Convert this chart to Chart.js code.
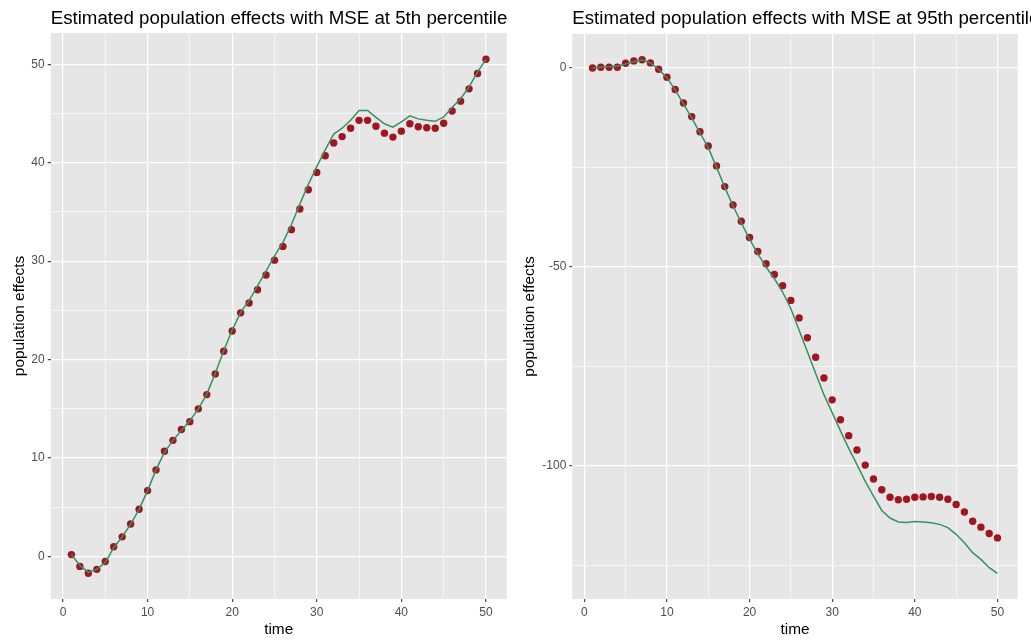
<!DOCTYPE html>
<html><head><meta charset="utf-8">
<script src="https://cdn.jsdelivr.net/npm/chart.js@4.4.1/dist/chart.umd.min.js"></script>
<style>
html,body{margin:0;padding:0;background:#fff;overflow:hidden;width:1031px;height:641px}
#c1{position:absolute;left:0;top:0}
#c2{position:absolute;left:515px;top:0}
</style>
</head><body>
<canvas id="c1" width="515" height="641"></canvas>
<canvas id="c2" width="516" height="641"></canvas>
<script>
const time = [1,2,3,4,5,6,7,8,9,10,11,12,13,14,15,16,17,18,19,20,21,22,23,24,25,26,27,28,29,30,31,32,33,34,35,36,37,38,39,40,41,42,43,44,45,46,47,48,49,50];

const mse5Points = [0.2,-1.0,-1.7,-1.3,-0.5,1.0,2.0,3.3,4.8,6.7,8.8,10.7,11.8,12.9,13.7,15.0,16.45,18.55,20.85,22.9,24.75,25.75,27.1,28.6,30.1,31.5,33.2,35.3,37.25,39.0,40.7,42.0,42.65,43.5,44.3,44.3,43.7,43.0,42.6,43.2,43.95,43.65,43.55,43.5,44.0,45.25,46.25,47.5,49.05,50.5];
const mse5Line = [0.2,-0.9,-1.6,-1.3,-0.6,0.9,2.0,3.3,4.8,6.7,8.8,10.6,11.8,12.8,13.8,15.0,16.5,18.6,20.9,23.0,24.8,26.0,27.5,29.0,30.5,31.9,33.7,35.8,37.8,39.6,41.3,42.9,43.5,44.3,45.3,45.3,44.6,43.95,43.6,44.15,44.75,44.45,44.3,44.2,44.65,45.6,46.5,47.7,49.2,50.5];

const mse95Points = [0.0,0.2,0.2,0.2,1.2,1.8,2.1,1.3,-0.3,-2.3,-5.4,-8.8,-12.2,-16.0,-19.6,-24.6,-29.8,-34.4,-38.5,-42.6,-46.1,-49.2,-51.9,-54.7,-58.4,-62.8,-67.8,-72.7,-77.9,-83.4,-88.4,-92.4,-96.0,-99.8,-103.3,-106.0,-107.9,-108.5,-108.4,-107.9,-107.8,-107.7,-107.9,-108.4,-109.7,-111.6,-113.9,-115.4,-117.0,-118.1];
const mse95Line = [0.0,0.2,0.3,0.5,1.0,1.6,2.0,1.3,-0.3,-2.4,-5.5,-9.0,-12.5,-16.3,-20.0,-24.9,-30.0,-34.6,-38.9,-43.0,-46.7,-50.0,-52.9,-56.3,-60.5,-65.9,-71.3,-76.8,-82.1,-86.6,-91.2,-95.6,-99.7,-103.9,-107.6,-111.2,-113.1,-114.1,-114.2,-114.0,-114.1,-114.3,-114.7,-115.5,-117.2,-119.3,-121.8,-123.5,-125.6,-127.0];

const xMajorTicks = [0,10,20,30,40,50];
const xMinorTicks = [5,15,25,35,45];
const leftYMajorTicks = [0,10,20,30,40,50];
const leftYMinorTicks = [5,15,25,35,45];
const rightYMajorTicks = [0,-50,-100];
const rightYMinorTicks = [-25,-75,-125];

const leftTitle = 'Estimated population effects with MSE at 5th percentile';
const rightTitle = 'Estimated population effects with MSE at 95th percentile';
const xTitle = 'time';
const yTitle = 'population effects';

const FAMILY = '"Liberation Sans", Arial, Helvetica, sans-serif';

const panelBg = {
  id: 'panelBg',
  beforeDraw(chart) {
    const {ctx, chartArea: a} = chart;
    ctx.save();
    ctx.fillStyle = '#E6E6E6';
    ctx.fillRect(a.left, a.top, a.right - a.left, a.bottom - a.top);
    ctx.restore();
  }
};
const panelTitle = {
  id: 'panelTitle',
  afterDraw(chart, args, opts) {
    const ctx = chart.ctx;
    ctx.save();
    ctx.font = opts.size + 'px ' + FAMILY;
    ctx.fillStyle = '#000000';
    ctx.textBaseline = 'alphabetic';
    ctx.textAlign = 'left';
    ctx.fillText(opts.text, chart.chartArea.left, opts.baseline);
    ctx.restore();
  }
};

function axis(major, minor, min, max, titleText, isY, titlePad, fixedSize) {
  const majorSet = new Set(major);
  const isMajor = ctx => ctx && ctx.tick && majorSet.has(ctx.tick.value);
  return {
    type: 'linear', min: min, max: max,
    afterBuildTicks: s => { s.ticks = major.concat(minor).sort((a,b)=>a-b).map(v => ({value: v})); },
    afterFit: s => { if (isY) s.width = fixedSize; else s.height = fixedSize; },
    grid: {
      color: '#FFFFFF',
      lineWidth: ctx => isMajor(ctx) ? 1.3 : 0.6,
      tickColor: ctx => isMajor(ctx) ? '#333333' : 'rgba(0,0,0,0)',
      tickLength: 3,
      tickWidth: 1.1,
      drawTicks: true,
      drawOnChartArea: true
    },
    border: {display: false},
    ticks: {
      autoSkip: false, maxRotation: 0, minRotation: 0, padding: 3,
      color: '#4D4D4D', font: {family: FAMILY, size: 12},
      callback: v => majorSet.has(v) ? String(v) : ''
    },
    title: {
      display: true, text: titleText, color: '#000000',
      font: {family: FAMILY, size: 15.4},
      padding: isY ? {top: titlePad, bottom: 0} : {top: 0, bottom: titlePad}
    }
  };
}

function makePanel(id, pts, line, yMajor, yMinor, yMin, yMax, title, yAxisWidth, yTitlePad, padRight, padTop) {
  return new Chart(document.getElementById(id), {
    type: 'scatter',
    data: {
      datasets: [
        {type: 'line', data: time.map((t,i) => ({x: t, y: line[i]})), borderColor: '#359260', borderWidth: 1.5,
         pointRadius: 0, fill: false, tension: 0},
        {type: 'scatter', data: time.map((t,i) => ({x: t, y: pts[i]})), backgroundColor: '#A0161F',
         borderColor: '#A0161F', borderWidth: 0, pointRadius: 3.7}
      ]
    },
    options: {
      responsive: false, animation: false, devicePixelRatio: 1,
      layout: {padding: {top: padTop, right: padRight, left: 0, bottom: 0}},
      scales: {
        x: axis(xMajorTicks, xMinorTicks, -1.45, 52.45, xTitle, false, 1.8, 42),
        y: axis(yMajor, yMinor, yMin, yMax, yTitle, true, yTitlePad, yAxisWidth)
      },
      plugins: {
        legend: {display: false}, tooltip: {enabled: false},
        panelTitle: {text: title, size: 18.7, baseline: 24}
      }
    },
    plugins: [panelBg, panelTitle]
  });
}

makePanel('c1', mse5Points, mse5Line, leftYMajorTicks, leftYMinorTicks, -4.31, 53.17, leftTitle, 50.7, 10.8, 8.3, 33);
makePanel('c2', mse95Points, mse95Line, rightYMajorTicks, rightYMinorTicks, -133.46, 8.56, rightTitle, 57.3, 5.8, 13.3, 34);
</script>
</body></html>
